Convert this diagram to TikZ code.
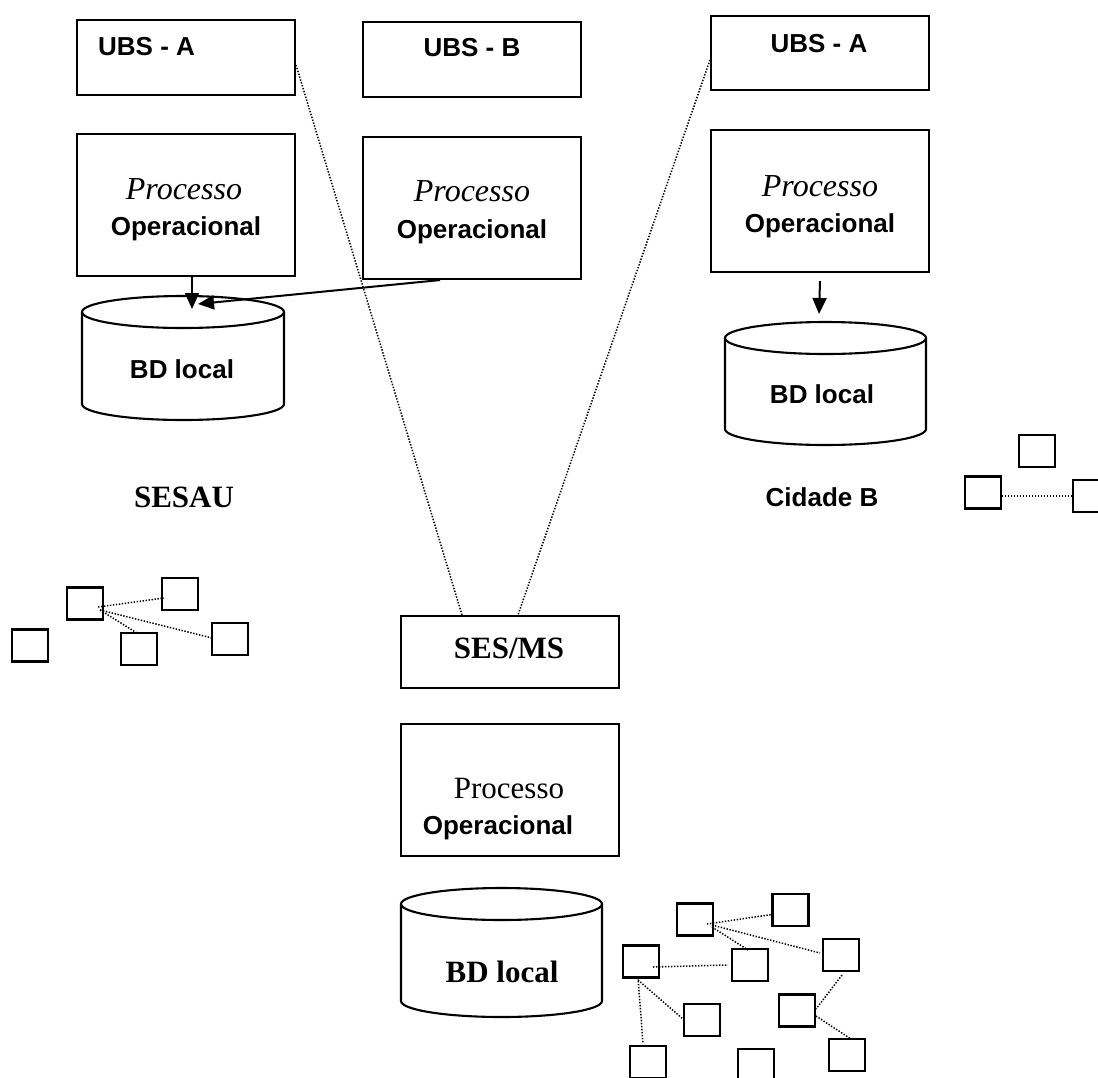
\documentclass[tikz,border=0pt]{standalone}
\usepackage{fontspec}
\setmainfont{Liberation Serif}
\setsansfont{Liberation Sans}
\usetikzlibrary{arrows.meta,calc}

% database drawn as a cylinder: #1 left x, #2 right x, #3 y of top rim centre, #4 y of bottom rim centre
\newcommand{\dbdrum}[4]{%
  \pgfmathsetmacro{\drumrx}{(#2-#1)/2}%
  \draw[frameline] ({(#1+#2)/2},#3) ellipse [x radius=\drumrx pt, y radius=16pt];
  \draw[frameline] (#1,#3) -- (#1,#4)
    arc [start angle=180, end angle=360, x radius=\drumrx pt, y radius=16pt] -- (#2,#3);
}

\begin{document}
\begin{tikzpicture}[x=1pt,y=-1pt,
  frameline/.style={line width=2.1pt},
  frame/.style={draw, frameline, inner sep=0pt},
  unitbox/.style={frame, minimum width=218pt},
  chip/.style={frame, minimum width=36pt, minimum height=32pt},
  sanslbl/.style={font=\sffamily\bfseries\fontsize{26}{30}\selectfont, inner sep=0pt},
  seriflbl/.style={font=\rmfamily\fontsize{31}{36}\selectfont, inner sep=0pt},
  italbl/.style={font=\rmfamily\itshape\fontsize{32}{36}\selectfont, inner sep=0pt},
  boldserif/.style={font=\rmfamily\bfseries\fontsize{31}{36}\selectfont, inner sep=0pt},
  link/.style={line width=1.5pt, dash pattern=on 1.4pt off 1.6pt},
  flow/.style={line width=2pt, -{Triangle[length=16pt,width=14pt]}},
]
\clip (0,0) rectangle (1098,1077);
\fill[white] (0,0) rectangle (1098,1077);

% ---- top row: health units ----
\node[unitbox, minimum height=75pt] (ubsL) at (186,57.5) {};
\node[unitbox, minimum height=75pt] (ubsB) at (472,59.5) {};
\node[unitbox, minimum height=74pt] (ubsR) at (820,53) {};
\node[sanslbl, anchor=west] (ubsLt) at (98,47) {UBS - A};
\node[sanslbl] (ubsBt) at (472,48) {UBS - B};
\node[sanslbl] (ubsRt) at (819,44) {UBS - A};

% ---- operational processes ----
\node[unitbox, minimum height=142pt] (procL) at (186,205) {};
\node[unitbox, minimum height=142pt] (procM) at (472,208) {};
\node[unitbox, minimum height=142pt] (procR) at (820,201) {};
\node[italbl] (procLa) at (184,189) {Processo};
\node[sanslbl] (procLb) at (186,229) {Operacional};
\node[italbl] (procMa) at (472,191) {Processo};
\node[sanslbl] (procMb) at (472,232) {Operacional};
\node[italbl] (procRa) at (820,186) {Processo};
\node[sanslbl] (procRb) at (820,226) {Operacional};

% ---- local databases ----
\dbdrum{82}{284}{312}{404}
\dbdrum{725}{926}{338}{429}
\node[sanslbl] (dbL) at (182,369) {BD local};
\node[sanslbl] (dbR) at (822,394) {BD local};
\coordinate (dbLtop) at (192,309);
\coordinate (dbLtip) at (198,304);
\coordinate (dbRtop) at (819,314);

\draw[flow] ([xshift=6pt]procL.south) -- (dbLtop);
\draw[flow] ([xshift=-32pt]procM.south) -- (dbLtip);
\draw[flow] ([yshift=-8pt]procR.south) -- (dbRtop);

% ---- region captions ----
\node[boldserif] (sesau) at (184,497) {SESAU};
\node[sanslbl] (cidB) at (822,497) {Cidade B};

% ---- state level ----
\node[unitbox, minimum height=72pt] (sesms) at (510,652) {};
\node[boldserif] (sesmst) at (509,648) {SES/MS};
\node[unitbox, minimum height=132pt] (procB) at (510,790) {};
\node[seriflbl] (procBa) at (509,788) {Processo};
\node[sanslbl] (procBb) at (498,828) {Operacional};
\dbdrum{401}{602}{904}{1001}
\node[boldserif] (dbB) at (502,972) {BD local};

% ---- links from the units to the state ----
\draw[link] ([yshift=-7.5pt]ubsL.east) -- ([xshift=-48pt]sesms.north);
\draw[link] ([yshift=-7pt]ubsR.west) -- ([xshift=8pt]sesms.north);

% ---- small network, left ----
\node[chip] (ca) at (85,603.5) {};
\node[chip] (cb) at (180,594) {};
\node[chip] (cc) at (30,645.5) {};
\node[chip] (cd) at (139,649) {};
\node[chip] (ce) at (230,639) {};
\draw[link] ($(ca)+(13,3.5)$) -- ($(cb)+(-16,4)$);
\draw[link] ($(ca)+(15,6.5)$) -- ($(ce)+(-18,-1)$);
\draw[link] ($(ca)+(15,6.5)$) -- ($(cd)+(-2,-16)$);

% ---- small network, right ----
\node[chip] (ra) at (1037,451) {};
\node[chip] (rb) at (983,492.5) {};
\node[chip] (rc) at (1091,496) {};
\draw[link] ($(rb.east)+(0,3.5)$) -- (rc.west);

% ---- small network, bottom ----
\node[chip] (h1) at (695,919.5) {};
\node[chip] (r1) at (790.5,910) {};
\node[chip] (r2) at (841,955) {};
\node[chip] (m1) at (750,965) {};
\node[chip] (l1) at (641,961.5) {};
\node[chip] (l2) at (702,1020) {};
\node[chip] (l3) at (648,1062) {};
\node[chip] (bm) at (756,1065) {};
\node[chip] (r3) at (797,1010.5) {};
\node[chip] (r4) at (847,1055) {};
\draw[link] ($(h1)+(12,4.5)$) -- ($(r1)+(-15.5,4)$);
\draw[link] ($(h1)+(17,5.5)$) -- ($(r2)+(-21,-2)$);
\draw[link] ($(h1)+(17,7.5)$) -- ($(m1)+(-2,-15)$);
\draw[link] ($(l1)+(12,5.5)$) -- ($(m1)+(-22,0)$);
\draw[link] ($(l1)+(-3,16.5)$) -- ($(l3)+(-5,-19)$);
\draw[link] ($(l1)+(-3,18.5)$) -- ($(l2)+(-19,-1)$);
\draw[link] ($(r2)+(1,20)$) -- ($(r3)+(19,-1.5)$);
\draw[link] ($(r3)+(19,5.5)$) -- ($(r4)+(4,-16)$);
\end{tikzpicture}
\end{document}
